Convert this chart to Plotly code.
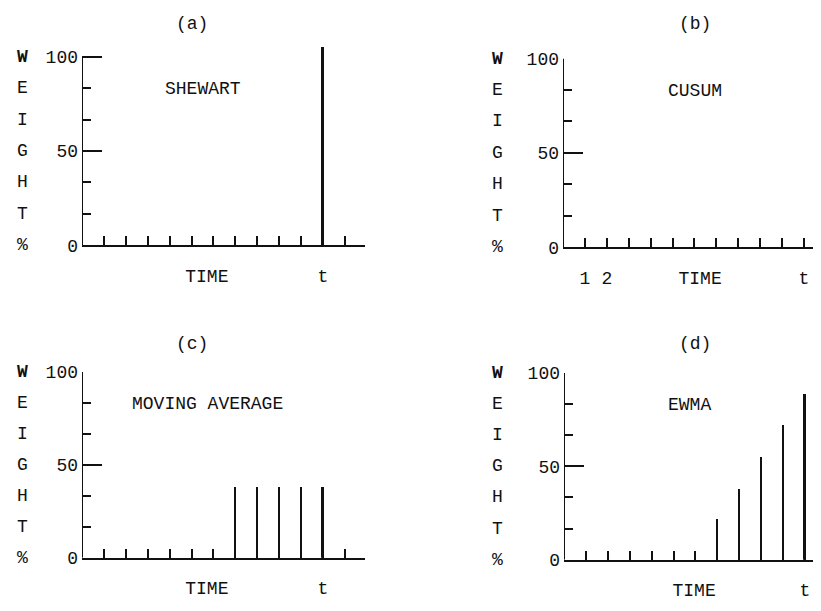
import plotly.graph_objects as go

# ---------------- data ----------------
PERIODS = [1, 2, 3, 4, 5, 6, 7, 8, 9, 10, 11, 12]
SHEWART = [0, 0, 0, 0, 0, 0, 0, 0, 0, 0, 105, 0]
CUSUM = [0, 0, 0, 0, 0, 0, 0, 0, 0, 0, 0, 0]
MOVING_AVERAGE = [0, 0, 0, 0, 0, 0, 38, 38, 38, 38, 38, 0]
EWMA = [0, 0, 0, 0, 0, 0, 22, 38, 55, 72, 89, 0]

PANEL_TITLES = ["(a)", "(b)", "(c)", "(d)"]
METHOD_NAMES = ["SHEWART", "CUSUM", "MOVING AVERAGE", "EWMA"]
Y_TICK_VALUES = [0, 50, 100]
Y_TICK_TEXT = ["0", "50", "100"]
Y_LETTERS = ["%", "T", "H", "G", "I", "E", "W"]
Y_LETTER_LEVELS = [0, 16.67, 33.33, 50, 66.67, 83.33, 100]
X_LABEL_POS = [[5.7, 11], [1, 2, 6.26, 11], [5.7, 11], [5.94, 11]]
X_LABEL_TEXT = [["TIME", "t"], ["1", "2", "TIME", "t"], ["TIME", "t"], ["TIME", "t"]]

SERIES = [SHEWART, CUSUM, MOVING_AVERAGE, EWMA]

# ---------------- layout geometry (screen pixels) ----------------
W, H = 821, 611
OFF = 8  # page body margin offsets the figure on screen
UNIT = 21.9
# (y-axis x px, y px of value 0, y px of value 100, right edge px) in screen coords
PANELS = [
    (82, 244, 49, 364.5),
    (563, 246, 51, 830),
    (82, 567, 375, 364.5),
    (564, 569, 376, 830),
]
LETTER_X = [22, 497, 22, 497]
TITLE_PX = [(192, 15), (695, 15), (192, 346), (695, 346)]
NAME_POS = [(5.52, 83), (6.03, 83), (5.75, 83), (5.71, 83)]

FONT = "Liberation Mono"
FS = 18
INK = "#111111"


def fx(px):
    return (px - OFF) / W


def fy(py):
    return 1 - (py - OFF) / H


fig = go.Figure()
annotations = []
shapes = []

for i, (ax_x, y0px, y100px, right) in enumerate(PANELS):
    k = "" if i == 0 else str(i + 1)
    xa, ya = "x" + k, "y" + k
    vals = SERIES[i]
    xs = [p for p, v in zip(PERIODS, vals) if v > 0]
    ys = [v for v in vals if v > 0]
    ymax = max(100, max(vals) + 1)
    pxper = (y0px - y100px) / 100.0
    ytop_px = y0px - ymax * pxper
    right = min(right, W + OFF)
    fig.add_trace(go.Bar(
        x=xs, y=ys, width=0.09, xaxis=xa, yaxis=ya,
        marker=dict(color=INK, line=dict(width=0)),
        cliponaxis=False, showlegend=False, hoverinfo="skip",
    ))
    xmax = (right - ax_x) / UNIT
    fig.layout["xaxis" + k] = dict(
        domain=[fx(ax_x), min(1, fx(right))], range=[0, xmax], anchor=ya,
        showline=True, linecolor=INK, linewidth=2, showgrid=False, zeroline=False,
        ticks="", tickvals=X_LABEL_POS[i], ticktext=X_LABEL_TEXT[i],
        ticklabelstandoff=13,
        tickfont=dict(family=FONT, size=FS, color=INK),
        minor=dict(ticks="inside", tickvals=PERIODS, ticklen=9, tickwidth=1.5,
                   tickcolor=INK, showgrid=False),
    )
    fig.layout["yaxis" + k] = dict(
        domain=[fy(y0px), fy(ytop_px)], range=[0, ymax], anchor=xa,
        showline=False, showgrid=False, zeroline=False,
        ticks="inside", tickvals=Y_TICK_VALUES, ticktext=Y_TICK_TEXT,
        ticklen=20, tickwidth=2, tickcolor=INK, ticklabelstandoff=3,
        tickfont=dict(family=FONT, size=FS, color=INK),
        minor=dict(ticks="inside", tickvals=Y_LETTER_LEVELS, ticklen=9, tickwidth=1.5,
                   tickcolor=INK, showgrid=False),
    )
    # vertical axis line from 0 to 100
    shapes.append(dict(type="line", xref=xa, yref=ya, x0=0, x1=0, y0=0, y1=100,
                       line=dict(color=INK, width=2)))
    # panel title
    annotations.append(dict(x=fx(TITLE_PX[i][0]), y=fy(TITLE_PX[i][1]),
                            xref="paper", yref="paper", xanchor="center", yanchor="middle",
                            text=PANEL_TITLES[i], showarrow=False,
                            font=dict(family=FONT, size=FS, color=INK)))
    # method name
    annotations.append(dict(x=NAME_POS[i][0], y=NAME_POS[i][1], xref=xa, yref=ya,
                            text=METHOD_NAMES[i], showarrow=False,
                            font=dict(family=FONT, size=FS, color=INK)))
    # vertical WEIGHT % letters
    for letter, lvl in zip(Y_LETTERS, Y_LETTER_LEVELS):
        annotations.append(dict(x=fx(LETTER_X[i]), y=lvl, xref="paper", yref=ya,
                                xanchor="center", yanchor="middle",
                                text="<b>" + letter + "</b>" if letter == "W" else letter,
                                showarrow=False,
                                font=dict(family=FONT, size=FS, color=INK)))

fig.update_layout(
    width=W, height=H, margin=dict(l=0, r=0, t=0, b=0),
    paper_bgcolor="white", plot_bgcolor="white",
    annotations=annotations, shapes=shapes, bargap=0,
)

fig.write_html("out.html")
